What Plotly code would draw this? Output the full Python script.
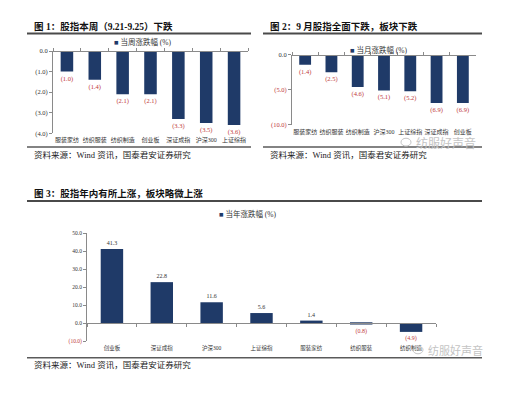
import plotly.graph_objects as go

# ---------------- data ----------------
cats1 = ["服装家纺", "纺织服装", "纺织制造", "创业板", "深证成指", "沪深300", "上证综指"]
vals1 = [-1.0, -1.4, -2.1, -2.1, -3.3, -3.5, -3.6]
ticks1 = [0, -1, -2, -3, -4]

cats2 = ["服装家纺", "纺织服装", "纺织制造", "沪深300", "上证综指", "深证成指", "创业板"]
vals2 = [-1.4, -2.5, -4.6, -5.1, -5.2, -6.9, -6.9]
ticks2 = [0, -5, -10]

cats3 = ["创业板", "深证成指", "沪深300", "上证综指", "服装家纺", "纺织服装", "纺织制造"]
vals3 = [41.3, 22.8, 11.6, 5.6, 1.4, -0.8, -4.9]
ticks3 = [50, 40, 30, 20, 10, 0, -10]

titles = ["图 1：股指本周（9.21-9.25）下跌",
          "图 2：9 月股指全面下跌，板块下跌",
          "图 3：股指年内有所上涨，板块略微上涨"]
legends = ["当周涨跌幅 (%)", "当月涨跌幅 (%)", "当年涨跌幅 (%)"]
source = "资料来源：Wind 资讯，国泰君安证券研究"
watermark = "纺服好声音"

# ---------------- style ----------------
W, H = 520, 397
NAVY = "#1f3a68"
RED = "#c0393b"
DARK = "#333333"
AX = "#8a8a8a"
FONT = "Liberation Serif, 'Noto Sans CJK SC', serif"


def px(x):
    return x / W


def py(y):
    return 1 - y / H


def fmt(v):
    return f"({abs(v):.1f})" if v < 0 else f"{v:.1f}"


def tick_text(v, red_neg):
    s = fmt(v)
    if red_neg and v < 0:
        return f"<span style='color:{RED}'>{s}</span>"
    return s


panels = [
    dict(cats=cats1, vals=vals1, ticks=ticks1, rng=[-4, 0], xd=[53, 248], yd=[132, 48],
         red_ticks=False, lab=6, val=6.5, ytf=6.5),
    dict(cats=cats2, vals=vals2, ticks=ticks2, rng=[-10, 0], xd=[292, 476], yd=[123, 52],
         red_ticks=True, lab=6, val=6.5, ytf=6.5),
    dict(cats=cats3, vals=vals3, ticks=ticks3, rng=[-10, 50], xd=[87, 436], yd=[344, 234],
         red_ticks=True, lab=5.5, val=6, ytf=5.5),
]

fig = go.Figure()
layout = dict(width=W, height=H, autosize=False, margin=dict(l=0, r=0, t=0, b=0),
              paper_bgcolor="white", plot_bgcolor="rgba(0,0,0,0)", showlegend=False,
              font=dict(family=FONT, color=DARK), bargap=0.55)

for i, p in enumerate(panels):
    xa = f"x{2 * i + 1}" if i > 0 else "x"
    xa_lab = f"x{2 * i + 2}"
    ya = f"y{i + 1}" if i > 0 else "y"
    xk = "xaxis" + ("" if i == 0 else str(2 * i + 1))
    xk_lab = "xaxis" + str(2 * i + 2)
    yk = "yaxis" + ("" if i == 0 else str(i + 1))

    colors = [RED if v < 0 else DARK for v in p["vals"]]
    fig.add_trace(go.Bar(x=p["cats"], y=p["vals"], xaxis=xa, yaxis=ya,
                         marker=dict(color=NAVY, line=dict(width=0)),
                         text=[fmt(v) for v in p["vals"]], textposition="outside",
                         textfont=dict(size=p["val"], color=colors, family=FONT),
                         constraintext="none", cliponaxis=False, hoverinfo="skip"))
    # invisible companion trace so the category-label axis is drawn
    fig.add_trace(go.Scatter(x=p["cats"], y=p["vals"], xaxis=xa_lab, yaxis=ya,
                             mode="markers", marker=dict(size=1, opacity=0),
                             hoverinfo="skip"))

    xdom = [px(p["xd"][0]), px(p["xd"][1])]
    ydom = [py(p["yd"][0]), py(p["yd"][1])]
    lo, hi = p["rng"]
    zero_pos = ydom[0] + (0 - lo) / (hi - lo) * (ydom[1] - ydom[0])
    at_top = hi == 0
    n = len(p["cats"])

    layout[xk] = dict(domain=xdom, type="category", anchor="free", position=zero_pos,
                      side="top" if at_top else "bottom",
                      showline=True, linecolor=AX, linewidth=1,
                      ticks="outside", tickson="boundaries", ticklen=3, tickcolor=AX,
                      showticklabels=False, showgrid=False, zeroline=False,
                      range=[-0.5, n - 0.5], fixedrange=True)
    layout[xk_lab] = dict(overlaying=xa, anchor=ya, side="bottom", type="category",
                          range=[-0.5, n - 0.5], ticks="", showline=False, showgrid=False,
                          zeroline=False, tickfont=dict(size=p["lab"], color=DARK),
                          ticklabelstandoff=2, tickangle=0, fixedrange=True)
    layout[yk] = dict(domain=ydom, anchor=xa, range=p["rng"], tickmode="array",
                      tickvals=p["ticks"],
                      ticktext=[tick_text(v, p["red_ticks"]) for v in p["ticks"]],
                      showline=True, linecolor=AX, linewidth=1, ticks="outside",
                      ticklen=3, tickcolor=AX, showgrid=False, zeroline=False,
                      tickfont=dict(size=p["ytf"], color=DARK), fixedrange=True)

fig.update_layout(**layout)

# ---------------- frame text & rules ----------------
frames = [
    dict(tx=32, ty=23, rule=[27, 251], top=30, bot=146, src=154, leg=(115, 39)),
    dict(tx=268, ty=23, rule=[263, 482], top=30, bot=146, src=154, leg=(351, 47)),
    dict(tx=32, ty=193, rule=[27, 482], top=201, bot=361, src=368, leg=(220, 214)),
]
for f, t, legtxt in zip(frames, titles, legends):
    lx, ly = f["leg"]
    fig.add_annotation(xref="paper", yref="paper", x=px(f["tx"]), y=py(f["ty"]),
                       xanchor="left", yanchor="middle", showarrow=False,
                       text=f"<b>{t}</b>", font=dict(size=9.5, color="#111111"))
    fig.add_annotation(xref="paper", yref="paper", x=px(f["tx"]), y=py(f["src"]),
                       xanchor="left", yanchor="middle", showarrow=False,
                       text=source, font=dict(size=8.5, color="#222222"))
    fig.add_annotation(xref="paper", yref="paper", x=px(lx - 3), y=py(ly),
                       xanchor="left", yanchor="middle", showarrow=False,
                       text=f"<span style='color:{NAVY}'>■</span> {legtxt}",
                       font=dict(size=7.5, color=DARK))
    fig.add_shape(type="line", xref="paper", yref="paper",
                  x0=px(f["rule"][0]), x1=px(f["rule"][1]), y0=py(f["top"]), y1=py(f["top"]),
                  line=dict(color="#4a4a4a", width=2))
    fig.add_shape(type="line", xref="paper", yref="paper",
                  x0=px(f["rule"][0]), x1=px(f["rule"][1]), y0=py(f["bot"]), y1=py(f["bot"]),
                  line=dict(color="#5a5a5a", width=1.5))

# watermarks (light grey, kept clear of the chart texts)
for wx, wy, ws in [(414, 141, 12), (426, 353, 11)]:
    fig.add_annotation(xref="paper", yref="paper", x=px(wx), y=py(wy),
                       xanchor="left", yanchor="middle", showarrow=False,
                       text=watermark,
                       font=dict(size=ws, color="#c4c4c4",
                                 family="'Noto Sans CJK SC', sans-serif"))
    fig.add_shape(type="circle", xref="paper", yref="paper",
                  x0=px(wx - 13), x1=px(wx - 3), y0=py(wy + 4), y1=py(wy - 4),
                  line=dict(color="#c4c4c4", width=1))

fig.write_html("out.html", config={"displayModeBar": False},
               post_script="document.body.style.margin='0';document.body.style.overflow='hidden';")
